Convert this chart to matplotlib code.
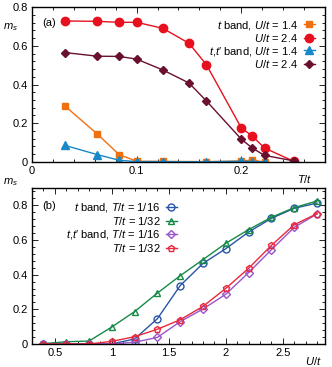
import matplotlib
matplotlib.use('Agg')
import matplotlib.pyplot as plt
from matplotlib.ticker import AutoMinorLocator

plt.rcParams['font.family'] = ['Liberation Sans', 'DejaVu Sans']
plt.rcParams['mathtext.fontset'] = 'custom'
plt.rcParams['mathtext.rm'] = 'Liberation Sans'
plt.rcParams['mathtext.it'] = 'Liberation Sans:italic'
plt.rcParams['font.size'] = 8

# panel (a): m_s vs T/t
T_all = [0.03125, 0.0625, 0.0833, 0.1, 0.125, 0.15, 0.1667, 0.2, 0.2105, 0.2222, 0.25]
ms_t_24 = [0.728, 0.726, 0.721, 0.721, 0.690, 0.613, 0.502, 0.176, 0.134, 0.072, 0.004]
ms_tt_24 = [0.565, 0.546, 0.545, 0.531, 0.475, 0.408, 0.315, 0.118, 0.072, 0.034, 0.006]
T_low = [0.03125, 0.0625, 0.0833, 0.1, 0.125, 0.1667, 0.2, 0.2105, 0.2222]
ms_t_14 = [0.290, 0.144, 0.038, 0.004, 0.003, 0.002, 0.005, 0.010, 0.0]
ms_tt_14 = [0.086, 0.038, 0.009, 0.002, 0.002, 0.001, 0.004, 0.002, 0.001]

# panel (b): m_s vs U/t
U = [0.4, 0.6, 0.8, 1.0, 1.2, 1.4, 1.6, 1.8, 2.0, 2.2, 2.4, 2.6, 2.8]
ms_t_16 = [0.0, 0.0, 0.0, 0.0, 0.029, 0.146, 0.337, 0.465, 0.550, 0.646, 0.725, 0.783, 0.813]
ms_t_32 = [0.002, 0.013, 0.017, 0.098, 0.187, 0.294, 0.394, 0.487, 0.581, 0.660, 0.731, 0.787, 0.825]
ms_tt_16 = [0.0, 0.0, 0.0, 0.0, 0.010, 0.038, 0.129, 0.202, 0.287, 0.412, 0.544, 0.673, 0.750]
ms_tt_32 = [0.0, 0.0, 0.0, 0.015, 0.042, 0.085, 0.140, 0.217, 0.321, 0.437, 0.569, 0.688, 0.752]

fig = plt.figure(figsize=(3.32, 3.67), dpi=100)
ax1 = fig.add_axes([0.0964, 0.5586, 0.8825, 0.4223])
ax2 = fig.add_axes([0.0964, 0.0627, 0.8825, 0.425])

lw = 1.0
ax1.plot(T_low, ms_t_14, '-s', color='#f07010', lw=lw, ms=5, label='$t$ band, $U/t$ = 1.4')
ax1.plot(T_all, ms_t_24, '-o', color='#e8101e', lw=lw, ms=6, label='$U/t$ = 2.4')
ax1.plot(T_low, ms_tt_14, '-^', color='#1888c8', lw=lw, ms=5.5, label='$t$,$t\u2032$ band, $U/t$ = 1.4')
ax1.plot(T_all, ms_tt_24, '-D', color='#6a0f2e', lw=lw, ms=4.5, label='$U/t$ = 2.4')

ax1.set_xlim(0, 0.28)
ax1.set_ylim(0, 0.8)
ax1.set_xticks([0, 0.1, 0.2])
ax1.set_xticklabels(['0', '0.1', '0.2'])
ax1.set_yticks([0, 0.2, 0.4, 0.6, 0.8])
ax1.set_yticklabels(['0', '0.2', '0.4', '0.6', '0.8'])
ax1.text(0.035, 0.9, '(a)', transform=ax1.transAxes, ha='left', va='center')
ax1.text(-0.075, 0.87, '$m_s$', transform=ax1.transAxes, ha='center', va='center')
ax1.text(0.93, -0.11, '$T/t$', transform=ax1.transAxes, ha='center', va='center')
ax1.legend(loc='upper right', bbox_to_anchor=(0.965, 0.925), markerfirst=False, frameon=False,
           handlelength=1.0, handletextpad=0.5, labelspacing=0.05, borderpad=0, borderaxespad=0,
           numpoints=1)

ax2.plot(U, ms_t_16, '-o', color='#2856a8', lw=lw, ms=5, mfc='none', mew=1.0, label='$t$ band, $T/t$ = 1/16')
ax2.plot(U, ms_t_32, '-^', color='#168a48', lw=lw, ms=5, mfc='none', mew=1.0, label='$T/t$ = 1/32')
ax2.plot(U, ms_tt_16, '-D', color='#9a55c8', lw=lw, ms=4, mfc='none', mew=1.0, label='$t$,$t\u2032$ band, $T/t$ = 1/16')
ax2.plot(U, ms_tt_32, '-p', color='#e8283c', lw=lw, ms=5, mfc='none', mew=1.0, label='$T/t$ = 1/32')

ax2.set_xlim(0.3, 2.87)
ax2.set_ylim(0, 0.9)
ax2.set_xticks([0.5, 1, 1.5, 2, 2.5])
ax2.set_xticklabels(['0.5', '1', '1.5', '2', '2.5'])
ax2.set_yticks([0, 0.2, 0.4, 0.6, 0.8])
ax2.set_yticklabels(['0', '0.2', '0.4', '0.6', '0.8'])
ax2.text(0.035, 0.885, '(b)', transform=ax2.transAxes, ha='left', va='center')
ax2.text(-0.075, 1.04, '$m_s$', transform=ax2.transAxes, ha='center', va='center')
ax2.text(0.96, -0.11, '$U/t$', transform=ax2.transAxes, ha='center', va='center')
ax2.legend(loc='upper right', bbox_to_anchor=(0.495, 0.915), markerfirst=False, frameon=False,
           handlelength=1.0, handletextpad=0.5, labelspacing=0.08, borderpad=0, borderaxespad=0,
           numpoints=1)

for ax in (ax1, ax2):
    ax.xaxis.set_minor_locator(AutoMinorLocator(5))
    ax.yaxis.set_minor_locator(AutoMinorLocator(5))
    ax.tick_params(which='both', direction='in', top=True, right=True, width=0.6)
    ax.tick_params(which='major', length=4, pad=3)
    ax.tick_params(which='minor', length=2)
    for sp in ax.spines.values():
        sp.set_linewidth(1.0)

fig.savefig('out.png', dpi=100)
